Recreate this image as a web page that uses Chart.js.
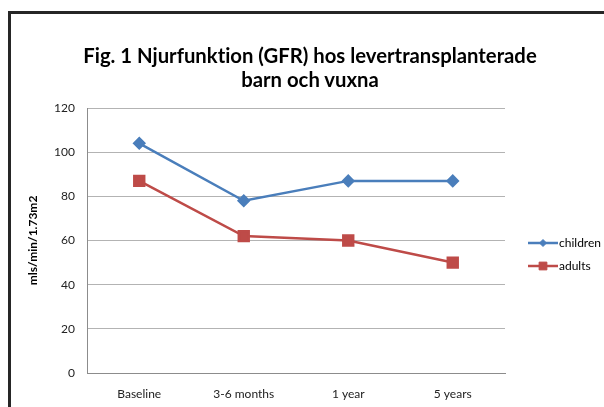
<!DOCTYPE html>
<html>
<head>
<meta charset="utf-8">
<script src="https://cdn.jsdelivr.net/npm/chart.js@4"></script>
<style>
  html, body { margin: 0; padding: 0; background: #fff; overflow: hidden; }
  #wrap { position: relative; width: 604px; height: 407px; }
  #frame { position: absolute; left: 8px; top: 11px; width: 640px; height: 440px; border: 3px solid #262626; box-sizing: border-box; }
  #chart { position: absolute; left: 0; top: 0; }
  #title { position: absolute; left: 10px; width: 600px; top: 43px; text-align: center;
           font: bold 20.3px Lato, "Open Sans", sans-serif; line-height: 24px; color: #000;
           font-variant-ligatures: none; }
</style>
</head>
<body>
<div id="wrap">
  <div id="frame"></div>
  <canvas id="chart" width="604" height="407"></canvas>
  <div id="title">Fig. 1 Njurfunktion (GFR) hos levertransplanterade<br>barn och vuxna</div>
</div>
<script>
const categories = ['Baseline', '3-6 months', '1 year', '5 years'];
const children = [104, 78, 87, 87];
const adults = [87, 62, 60, 50];
const yTicks = [0, 20, 40, 60, 80, 100, 120];

const fontFamily = 'Lato, "Open Sans", sans-serif';

// legend drawn Excel-style: a line with the marker in the middle
const sideLegend = {
    id: 'sideLegend',
    afterDraw(chart) {
        const c = chart.ctx;
        const x0 = 528, x1 = 558;
        const rows = [243, 266];
        const radii = [3.5, 5.5];
        chart.data.datasets.forEach((ds, i) => {
            const y = rows[i];
            c.save();
            c.strokeStyle = ds.borderColor;
            c.fillStyle = ds.backgroundColor;
            c.lineWidth = 2.5;
            c.beginPath();
            c.moveTo(x0, y);
            c.lineTo(x1, y);
            c.stroke();
            c.lineWidth = 1;
            Chart.helpers.drawPoint(c, {
                pointStyle: ds.pointStyle,
                radius: radii[i],
                rotation: 0,
                borderWidth: 1
            }, (x0 + x1) / 2, y);
            c.fillStyle = '#000';
            c.font = '12px ' + fontFamily;
            c.textBaseline = 'middle';
            c.fillText(ds.label, x1 + 1, y);
            c.restore();
        });
    }
};

const ctx = document.getElementById('chart').getContext('2d');
const chart = new Chart(ctx, {
    type: 'line',
    data: {
        labels: categories,
        datasets: [{
            label: 'children',
            data: children,
            borderColor: '#4a7ebb',
            backgroundColor: '#4a7ebb',
            borderWidth: 2.5,
            pointStyle: 'rectRot',
            pointRadius: 5,
            pointHoverRadius: 5,
            tension: 0
        }, {
            label: 'adults',
            data: adults,
            borderColor: '#be4b48',
            backgroundColor: '#be4b48',
            borderWidth: 2.5,
            pointStyle: 'rect',
            pointRadius: 7,
            pointHoverRadius: 7,
            tension: 0
        }]
    },
    options: {
        responsive: false,
        animation: false,
        layout: { padding: { left: 14, right: 99, top: 108, bottom: 0 } },
        plugins: {
            legend: { display: false },
            tooltip: { enabled: false },
            title: { display: false }
        },
        scales: {
            x: {
                offset: true,
                grid: { display: false, drawTicks: false },
                border: { display: true, color: '#8c8c8c', width: 1 },
                ticks: { color: '#222', font: { family: fontFamily, size: 12 }, padding: 14, maxRotation: 0 },
                afterFit(scale) { scale.height = 34; }
            },
            y: {
                min: 0,
                max: 120,
                afterBuildTicks(scale) { scale.ticks = yTicks.map(v => ({ value: v })); },
                grid: { color: '#b3b3b3', lineWidth: 1, drawTicks: false },
                border: { display: true, color: '#8c8c8c', width: 1 },
                ticks: { color: '#222', font: { family: fontFamily, size: 12 }, padding: 12 },
                title: {
                    display: true,
                    text: 'mls/min/1.73m2',
                    color: '#000',
                    font: { family: fontFamily, size: 12, weight: 'bold' },
                    padding: { top: 12, bottom: 0 }
                },
                afterFit(scale) { scale.width = 73; }
            }
        }
    },
    plugins: [sideLegend]
});
</script>
</body>
</html>
